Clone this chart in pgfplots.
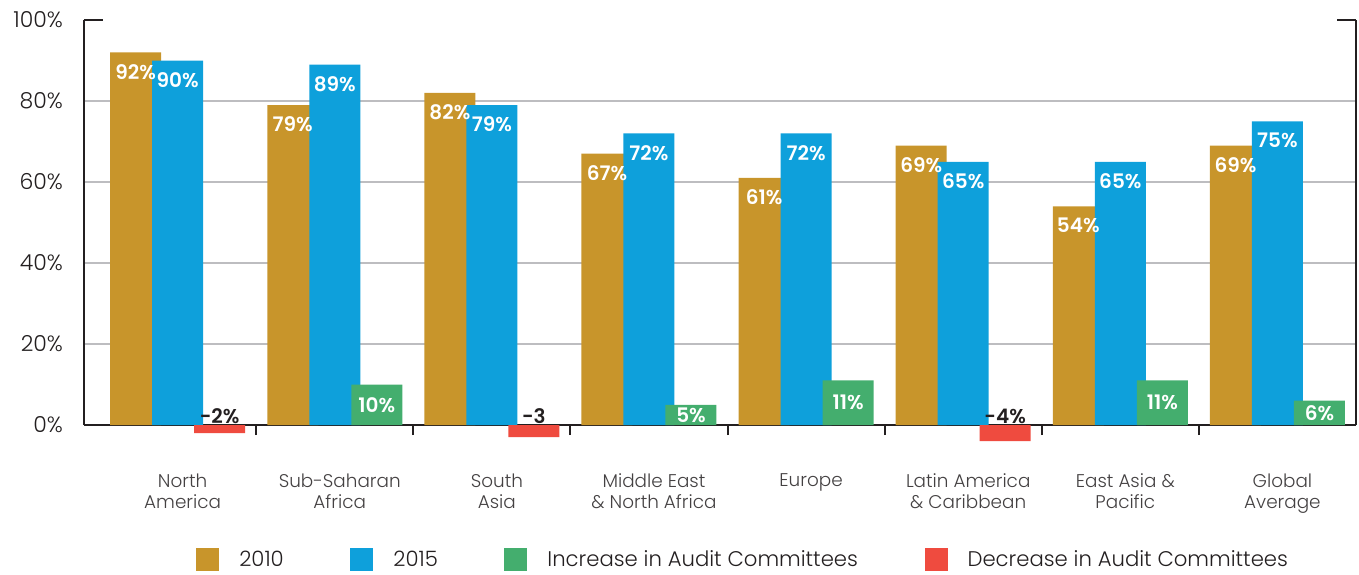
\documentclass[border=0pt]{standalone}
\usepackage{fontspec}
\setmainfont{Poppins Light}[BoldFont={Poppins SemiBold}]
\usepackage{pgfplots}
\pgfplotsset{compat=1.18}
\definecolor{cgold}{HTML}{C8952B}
\definecolor{cblue}{HTML}{0EA0DB}
\definecolor{cgreen}{HTML}{44AE6E}
\definecolor{cred}{HTML}{EF4B3F}
\definecolor{cgrid}{HTML}{BDBDC0}
\definecolor{ctext}{HTML}{231F20}
\begin{document}
\begin{tikzpicture}
\useasboundingbox (-42pt,-74.5pt) rectangle (637.5pt,212.5pt);
\begin{axis}[
  at={(0,0)}, anchor=south west,
  scale only axis, width=636pt, height=202.5pt,
  xmin=-0.596, xmax=7.5, ymin=0, ymax=100,
  clip=false,
  axis x line*=bottom, axis y line*=box,
  axis line style={draw=ctext, line width=1.1pt, -},
  ybar, bar width=25.5pt,
  /pgf/number format/assume math mode=true,
  xtick={0,...,7},
  xticklabels={North\\America, Sub-Saharan\\Africa, South\\Asia, Middle East\\\& North Africa, Europe, Latin America\\\& Caribbean, East Asia \&\\Pacific, Global\\Average},
  xticklabel style={align=center, font=\fontsize{9.2}{10.5}\selectfont, text=ctext!85, yshift=-21pt, xshift=2.5pt},
  major tick length=0pt,
  extra x ticks={0.5,1.5,...,6.5},
  extra x tick labels={},
  extra x tick style={major tick length=5pt, tick style={draw=ctext, line width=1pt}},
  ytick={20,40,60,80},
  ymajorgrids,
  grid style={draw=cgrid, line width=1.1pt},
  extra y ticks={0,100},
  extra y tick style={grid=none, major tick length=9.5pt, tick style={draw=ctext, line width=1.1pt}},
  yticklabel={\pgfmathprintnumber{\tick}\%},
  yticklabel pos=left,
  yticklabel style={font=\fontsize{11}{13}\selectfont, text=ctext, xshift=-7pt},
  legend style={at={(0.519,-0.333)}, anchor=center, draw=none, fill=none,
    legend columns=4, font=\fontsize{10.6}{12}\selectfont, text=ctext,
    /tikz/every even column/.append style={column sep=31.3pt}},
  legend image code/.code={\fill[#1] (0pt,-5.75pt) rectangle (11.5pt,5.75pt); \path (19.5pt,0pt);},
  nodes near coords,
  point meta=explicit symbolic,
  every node near coord/.append style={font=\fontsize{10}{12}\selectfont\bfseries, text=white, anchor=center, yshift=-9.75pt},
]
\addplot[fill=cgold, draw=none, bar shift=-21pt] coordinates {
  (0,92)[92\%] (1,79)[79\%] (2,82)[82\%] (3,67)[67\%] (4,61)[61\%] (5,69)[69\%] (6,54)[54\%] (7,69)[69\%]};
\addlegendentry{2010}
\addplot[fill=cblue, draw=none, bar shift=0pt] coordinates {
  (0,90)[90\%] (1,89)[89\%] (2,79)[79\%] (3,72)[72\%] (4,72)[72\%] (5,65)[65\%] (6,65)[65\%] (7,75)[75\%]};
\addlegendentry{2015}
\addplot[fill=cgreen, draw=none, bar shift=21pt,
  visualization depends on={rawy \as \myy},
  every node near coord/.append style={yshift=9.75pt, shift={(axis direction cs:0,-\myy/2)}}] coordinates {
  (1,10)[10\%] (3,5)[5\%] (4,11)[11\%] (6,11)[11\%] (7,6)[6\%]};
\addlegendentry{Increase in Audit Committees}
\addplot[fill=cred, draw=none, bar shift=21pt, nodes near coords={}] coordinates {
  (0,-2) (2,-3) (5,-4)};
\addlegendentry{Decrease in Audit Committees}
\addplot[draw=none, fill=none, bar shift=21pt, forget plot,
  every node near coord/.append style={text=ctext, anchor=base, yshift=10.75pt}] coordinates {
  (0,0)[-2\%] (2,0)[-3] (5,0)[-4\%]};
\end{axis}
\end{tikzpicture}
\end{document}
